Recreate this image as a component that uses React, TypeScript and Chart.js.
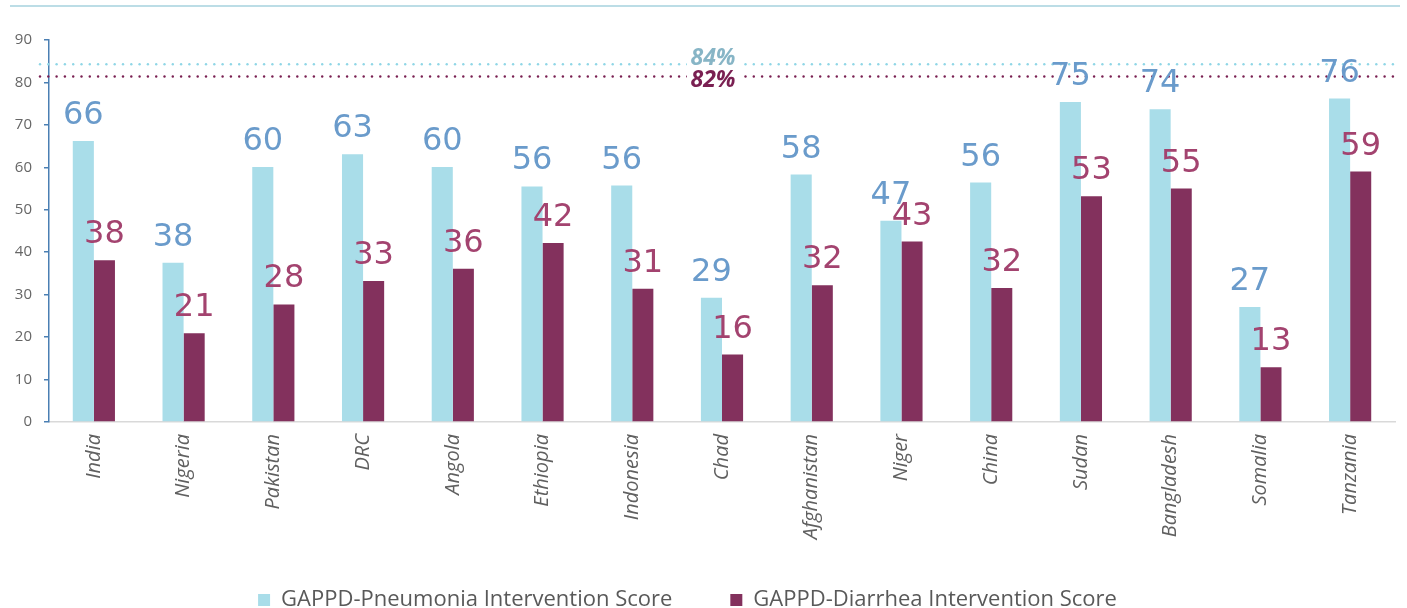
import React, { useEffect, useRef } from "react";
import { Chart, registerables } from "chart.js";

Chart.register(...registerables);

const categories = ["India", "Nigeria", "Pakistan", "DRC", "Angola", "Ethiopia", "Indonesia", "Chad", "Afghanistan", "Niger", "China", "Sudan", "Bangladesh", "Somalia", "Tanzania"];
const pneumoniaScores = [66.2, 37.5, 60.1, 63.1, 60.1, 55.5, 55.7, 29.3, 58.3, 47.4, 56.4, 75.4, 73.7, 27.1, 76.2];
const diarrheaScores = [38.1, 20.9, 27.7, 33.2, 36.1, 42.2, 31.4, 15.9, 32.2, 42.5, 31.6, 53.2, 55.0, 12.9, 59.0];
const pneumoniaTarget = 84.3;
const diarrheaTarget = 81.4;
const pneumoniaTargetLabel = "84%";
const diarrheaTargetLabel = "82%";
const yTicks = [0, 10, 20, 30, 40, 50, 60, 70, 80, 90];

const C_PNEU = "#a9dde9";
const C_DIAR = "#83315d";
const C_PNEU_LBL = "#6a9bcb";
const C_DIAR_LBL = "#a3436f";

const LEGEND_PAD = 58;

const overlayPlugin = {
  id: "overlay",
  beforeLayout(chart: any) {
    const lg = chart.legend;
    if (lg && !lg.__patched) {
      const orig = lg.fit.bind(lg);
      lg.fit = function () {
        orig();
        this.height = 30;
      };
      lg.__patched = true;
    }
  },
  afterLayout(chart: any) {
    const lg = chart.legend;
    if (lg) {
      lg.top = 531;
      lg.bottom = 608;
      lg.left = -20;
    }
  },
  afterDatasetsDraw(chart: any) {
    const ctx = chart.ctx;
    const { chartArea } = chart;
    const y = chart.scales.y;
    ctx.save();
    // top rule
    ctx.strokeStyle = "#a6d2de";
    ctx.lineWidth = 1.5;
    ctx.beginPath();
    ctx.moveTo(10, 6);
    ctx.lineTo(1400, 6);
    ctx.stroke();
    // target lines
    const drawDotted = (val: number, color: string) => {
      const py = y.getPixelForValue(val);
      ctx.fillStyle = color;
      for (let x = chartArea.left - 9; x < chartArea.right + 5; x += 8.3) {
        ctx.beginPath();
        ctx.arc(x, py, 1.2, 0, Math.PI * 2);
        ctx.fill();
      }
      return py;
    };
    const p1 = drawDotted(pneumoniaTarget, "#8fd6e6");
    const p2 = drawDotted(diarrheaTarget, "#7a2052");
    const cx = (chartArea.left + chartArea.right) / 2 - 9;
    ctx.fillStyle = "#fff";
    ctx.fillRect(cx - 26, p1 - 3, 52, 6);
    ctx.fillRect(cx - 26, p2 - 3, 52, 6);
    ctx.font = "italic bold 23px 'Open Sans'";
    ctx.textAlign = "center";
    ctx.textBaseline = "middle";
    ctx.fillStyle = "#87b5c6";
    ctx.fillText(pneumoniaTargetLabel, cx, p1 - 6);
    ctx.fillStyle = "#7a2052";
    ctx.fillText(diarrheaTargetLabel, cx, p2 + 3.5);
    // value labels
    ctx.font = "32px 'DejaVu Sans'";
    ctx.textBaseline = "alphabetic";
    chart.data.datasets.forEach((ds: any, di: number) => {
      const meta = chart.getDatasetMeta(di);
      ctx.fillStyle = di === 0 ? C_PNEU_LBL : C_DIAR_LBL;
      meta.data.forEach((bar: any, i: number) => {
        ctx.fillText(String(Math.round(ds.data[i])), bar.x, bar.y - 17);
      });
    });
    ctx.restore();
  },
};

export default function App() {
  const ref = useRef<HTMLCanvasElement>(null);
  useEffect(() => {
    document.body.style.margin = "0";
    const chart = new Chart(ref.current!, {
      type: "bar",
      data: {
        labels: categories,
        datasets: [
          { label: "GAPPD-Pneumonia Intervention Score", data: pneumoniaScores, backgroundColor: C_PNEU },
          { label: "GAPPD-Diarrhea Intervention Score", data: diarrheaScores, backgroundColor: C_DIAR },
        ],
      },
      options: {
        animation: false,
        responsive: false,
        maintainAspectRatio: false,
        layout: { padding: { top: 40, right: 12, left: 0, bottom: 0 } },
        datasets: { bar: { categoryPercentage: 0.47, barPercentage: 1.0 } },
        plugins: {
          tooltip: { enabled: false },
          legend: {
            position: "bottom",
            labels: {
              boxWidth: 12,
              boxHeight: 12,
              padding: LEGEND_PAD,
              color: "#595959",
              font: { family: "'Open Sans'", size: 22 },
            },
          },
        },
        scales: {
          x: {
            grid: { display: false, drawTicks: false },
            border: { color: "#d9d9d9", width: 1.5 },
            ticks: {
              minRotation: 90,
              maxRotation: 90,
              color: "#606060",
              padding: 12,
              font: { family: "'Open Sans'", style: "italic", size: 20 },
            },
            afterFit(scale: any) {
              scale.height = 156;
            },
          },
          y: {
            min: 0,
            max: 90,
            afterBuildTicks(scale: any) {
              scale.ticks = yTicks.map((v) => ({ value: v }));
            },
            grid: { drawOnChartArea: false, drawTicks: true, tickLength: 5, color: "#4a7fb3", lineWidth: 1.5 },
            border: { color: "#4a7fb3", width: 1.5 },
            ticks: { color: "#666666", padding: 12, font: { family: "'Open Sans'", size: 15 } },
            afterFit(scale: any) {
              scale.width = 49;
            },
          },
        },
      },
      plugins: [overlayPlugin],
    });
    return () => chart.destroy();
  }, []);
  return (
    <div style={{ position: "absolute", left: 0, top: 0, width: 1407, height: 608 }}>
      <canvas ref={ref} width={1407} height={608} style={{ display: "block" }} />
    </div>
  );
}
